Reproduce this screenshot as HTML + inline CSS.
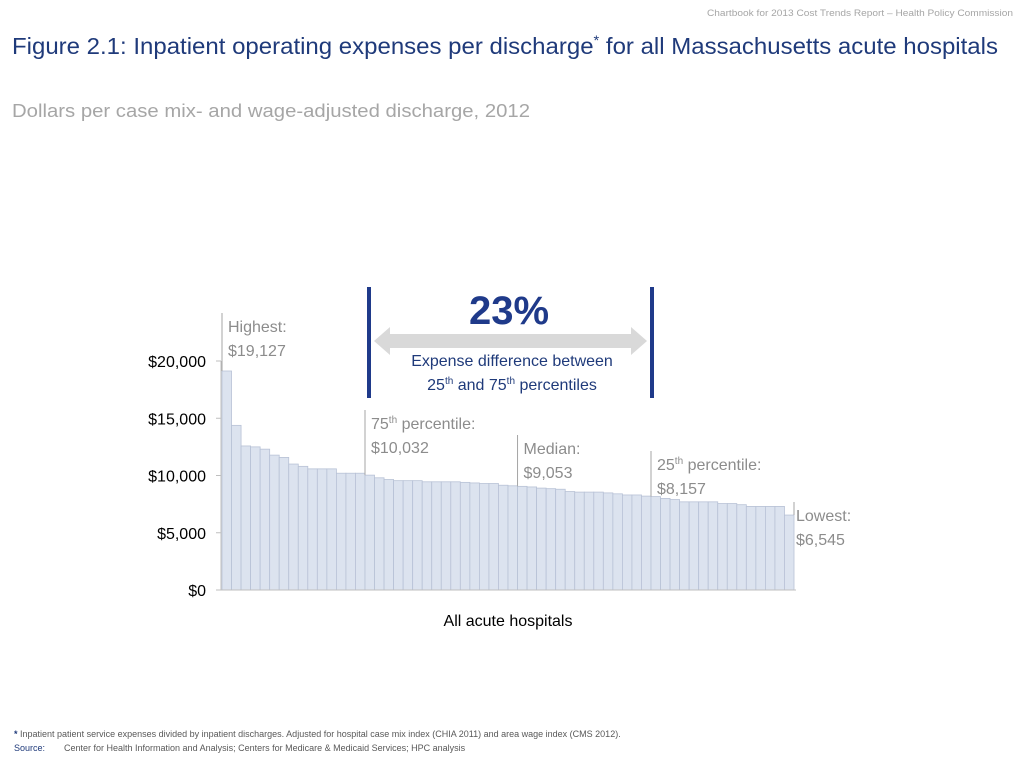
<!DOCTYPE html>
<html><head><meta charset="utf-8"><style>
html,body{margin:0;padding:0;background:#fff;}
svg{display:block;font-family:"Liberation Sans",sans-serif;}
</style></head><body>
<svg id="chart" width="1024" height="768" viewBox="0 0 1024 768">
<text x="1013" y="16" font-size="9" fill="#a6a6a6" text-anchor="end" textLength="306" lengthAdjust="spacingAndGlyphs">Chartbook for 2013 Cost Trends Report – Health Policy Commission</text>
<text x="12" y="54" font-size="23" fill="#1f3a7a" textLength="986" lengthAdjust="spacingAndGlyphs">Figure 2.1: Inpatient operating expenses per discharge<tspan font-size="14" dy="-9">*</tspan><tspan dy="9"> for all Massachusetts acute hospitals</tspan></text>
<text x="12" y="117" font-size="18" fill="#a6a6a6" textLength="518" lengthAdjust="spacingAndGlyphs">Dollars per case mix- and wage-adjusted discharge, 2012</text>
<g id="bars"></g>
<g id="yaxis"></g>
<g id="annos"></g>
<text x="508" y="626" font-size="16" fill="#000" text-anchor="middle">All acute hospitals</text>
<rect x="367" y="287" width="4" height="111" fill="#1f3a8a"/>
<rect x="650" y="287" width="4" height="111" fill="#1f3a8a"/>
<polygon points="374,341 390,327 390,334 631,334 631,327 647,341 631,355 631,348 390,348 390,355" fill="#d9d9d9"/>
<text x="509" y="324" font-size="40" font-weight="bold" fill="#1f3a8a" text-anchor="middle">23%</text>
<text x="512" y="366" font-size="16" fill="#1f3a7a" text-anchor="middle">Expense difference between</text>
<text x="512" y="390" font-size="16" fill="#1f3a7a" text-anchor="middle">25<tspan font-size="10" dy="-6">th</tspan><tspan dy="6"> and 75</tspan><tspan font-size="10" dy="-6">th</tspan><tspan dy="6"> percentiles</tspan></text>
<text x="14" y="737" font-size="9" fill="#1f3a7a"><tspan font-weight="bold">*</tspan><tspan fill="#595959">   Inpatient patient service expenses divided by inpatient discharges. Adjusted for hospital case mix index (CHIA 2011) and area wage index (CMS 2012).</tspan></text>
<text x="14" y="751" font-size="9" fill="#1f3a7a"><tspan>Source:</tspan><tspan x="64" fill="#595959">Center for Health Information and Analysis; Centers for Medicare &amp; Medicaid Services; HPC analysis</tspan></text>
</svg>
<script>
const values=[19127,14380,12580,12500,12300,11780,11580,11000,10800,10580,10580,10580,10200,10200,10200,10032,9800,9650,9550,9550,9550,9450,9450,9450,9450,9400,9350,9300,9300,9150,9100,9053,9000,8900,8850,8800,8600,8550,8550,8550,8480,8400,8300,8300,8200,8157,8000,7900,7700,7700,7700,7700,7550,7550,7450,7300,7300,7300,7300,6545];
const yTicks=[0,5000,10000,15000,20000];
const yTickLabels=["$0","$5,000","$10,000","$15,000","$20,000"];
const annotations=[
 {idx:0,line1:"Highest:",line2:"$19,127",top:313},
 {idx:15,line1:"75th percentile:",line2:"$10,032",top:410},
 {idx:31,line1:"Median:",line2:"$9,053",top:435},
 {idx:45,line1:"25th percentile:",line2:"$8,157",top:451},
 {idx:59,line1:"Lowest:",line2:"$6,545",top:502,end:true}
];
const NS="http://www.w3.org/2000/svg";
const x0=222,x1=794,y0=590,yScale=229/20000;
const bw=(x1-x0)/values.length;
const X=i=>x0+i*bw;
const Y=v=>y0-v*yScale;
function mk(t,a,p){const e=document.createElementNS(NS,t);for(const k in a)e.setAttribute(k,a[k]);p.appendChild(e);return e;}
const bars=document.getElementById('bars');
values.forEach((v,i)=>{
 const r=mk('rect',{x:X(i),y:Y(v),width:bw,height:v*yScale,fill:'#dce3ef',stroke:'#b8c2d6','stroke-width':0.8},bars);
 
 
});
const ya=document.getElementById('yaxis');
mk('line',{x1:221,y1:590,x2:221,y2:Y(20000),stroke:'#bfbfbf'},ya);
mk('line',{x1:216,y1:590,x2:796,y2:590,stroke:'#bfbfbf'},ya);
yTicks.forEach((t,i)=>{
 mk('line',{x1:216,y1:Y(t),x2:221,y2:Y(t),stroke:'#bfbfbf'},ya);
 const tx=mk('text',{x:206,y:Y(t)+6,'font-size':16,'text-anchor':'end',fill:'#000'},ya);
 tx.textContent=yTickLabels[i];
 
 
});
const an=document.getElementById('annos');
annotations.forEach(a=>{
 const lx=a.end?X(a.idx+1):X(a.idx);
 mk('line',{x1:lx,y1:a.top,x2:lx,y2:Y(values[a.idx]),stroke:'#a6a6a6'},an);
 const tx=a.end?lx+2:lx+6;
 const t1=mk('text',{x:tx,y:a.top+19,'font-size':16,fill:'#8c8c8c'},an);
 const m=a.line1.match(/^(\d+)(th)(.*)$/);
 if(m){t1.innerHTML=m[1]+'<tspan font-size="10" dy="-6">th</tspan><tspan dy="6">'+m[3]+'</tspan>';}
 else t1.textContent=a.line1;
 
 
 const t2=mk('text',{x:tx,y:a.top+43,'font-size':16,fill:'#8c8c8c'},an);
 t2.textContent=a.line2;
 
 
});
</script>
</body></html>
